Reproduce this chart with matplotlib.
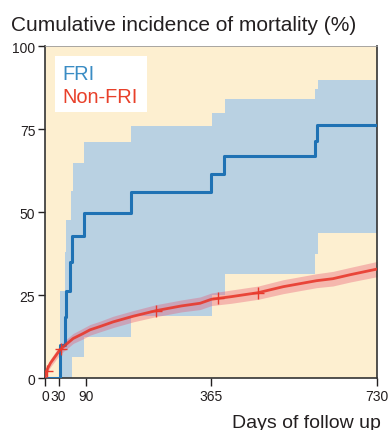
import numpy as np
import matplotlib
matplotlib.use("Agg")
from matplotlib import pyplot as plt

plt.rcParams['font.family'] = ['Liberation Sans', 'DejaVu Sans']

#-------------------------------------------------------------------------------
#FRI group: Kaplan-Meier style cumulative incidence (step curve) and its CI band
fri_days = [0, 33, 44, 46, 55, 60, 86, 188, 366, 394, 594, 599, 730]
fri_inc = [0, 10.0, 18.4, 26.4, 35.0, 43.0, 49.7, 56.0, 61.5, 67.0, 71.6, 76.4, 76.4]

fri_ci_days = [33, 44, 47, 57, 59, 62, 86, 188, 367, 396, 594, 600, 730]
fri_ci_low = [0, 0, 0, 0, 6.3, 6.3, 12.3, 18.9, 25.0, 31.4, 37.4, 43.8, 43.8]
fri_ci_high = [26.4, 38.0, 47.6, 56.5, 56.5, 64.7, 71.1, 76.1, 80.0, 84.0, 87.0, 90.0, 90.0]

#Non-FRI group: smoother curve, many small steps
nonfri_days = [0, 3, 6, 12, 22, 33, 48, 62, 84, 99, 121, 150, 194, 245, 300, 341,
               366, 410, 469, 524, 597, 633, 671, 730]
nonfri_inc = [0, 2.0, 3.0, 4.6, 6.5, 8.6, 10.4, 12.0, 13.5, 14.6, 15.6, 17.0, 18.7,
              20.4, 21.8, 22.6, 23.8, 24.6, 25.8, 27.6, 29.4, 30.0, 31.2, 32.9]
nonfri_halfwidth = [0, 0.8, 1.0, 1.2, 1.3, 1.4, 1.5, 1.5, 1.6, 1.6, 1.6, 1.7, 1.7,
                    1.8, 1.8, 1.9, 1.9, 2.0, 2.0, 2.1, 2.1, 2.2, 2.2, 2.3]
nonfri_censor_days = [4, 35, 245, 381, 468]

x_ticks = [0, 30, 90, 365, 730]
y_ticks = [0, 25, 50, 75, 100]

#-------------------------------------------------------------------------------
W, H = 392, 431
fig = plt.figure(figsize=(W / 100, H / 100), dpi=100)
ax = fig.add_axes([45 / W, 1 - 379.3 / H, 332 / W, 332 / H])

ax.set_facecolor('#fdefd0')

#FRI band + line
ax.fill_between(fri_ci_days, fri_ci_low, fri_ci_high, step='post',
                color='#b9d1e2', lw=0, zorder=1)
ax.step(fri_days, fri_inc, where='post', color='#1f72b4', lw=2.2, zorder=3)

#Non-FRI band + line
nf_d = np.array(nonfri_days)
nf_i = np.array(nonfri_inc)
nf_hw = np.array(nonfri_halfwidth)
ax.fill_between(nf_d, nf_i - nf_hw, nf_i + nf_hw, color='#e8506e', alpha=0.35,
                lw=0, zorder=2)
ax.plot(nf_d, nf_i, color='#e8392c', lw=2.0, alpha=0.9, zorder=4)
cens_y = np.interp(nonfri_censor_days, nf_d, nf_i)
ax.plot(nonfri_censor_days, cens_y, ls='none', marker='+', ms=8, mew=1.0,
        color='#e8392c', zorder=5)

ax.set_xlim(0, 730)
ax.set_ylim(0, 100)
ax.set_xticks(x_ticks)
ax.set_yticks(y_ticks)
ax.tick_params(axis='both', labelsize=10, colors='#231f20', direction='out')
ax.tick_params(axis='y', length=5, width=1.0, pad=2)
ax.tick_params(axis='x', length=6, width=1.0, pad=2)

for side in ['left', 'bottom', 'right']:
    ax.spines[side].set_color('#333333')
    ax.spines[side].set_linewidth(1.2)
ax.spines['top'].set_color('#9a9a9a')
ax.spines['top'].set_linewidth(0.6)

#legend box drawn as text inside a white box
ax.add_patch(plt.Rectangle((55 / W, 1 - 113 / H), 92 / W, 56 / H,
                           transform=fig.transFigure, facecolor='white',
                           edgecolor='none', zorder=6))
fig.text(62.5 / W, 1 - 80 / H, 'FRI', color='#3a8cc4', fontsize=14.4,
         ha='left', va='baseline', zorder=7)
fig.text(62.5 / W, 1 - 103 / H, 'Non-FRI', color='#e8402a', fontsize=14.4,
         ha='left', va='baseline', zorder=7)

fig.text(11 / W, 1 - 31 / H, 'Cumulative incidence of mortality (%)',
         fontsize=15, color='#231f20', ha='left', va='baseline')
fig.text(232 / W, 1 - 428 / H, 'Days of follow up', fontsize=14,
         color='#231f20', ha='left', va='baseline')

fig.savefig('out.png', dpi=100)
